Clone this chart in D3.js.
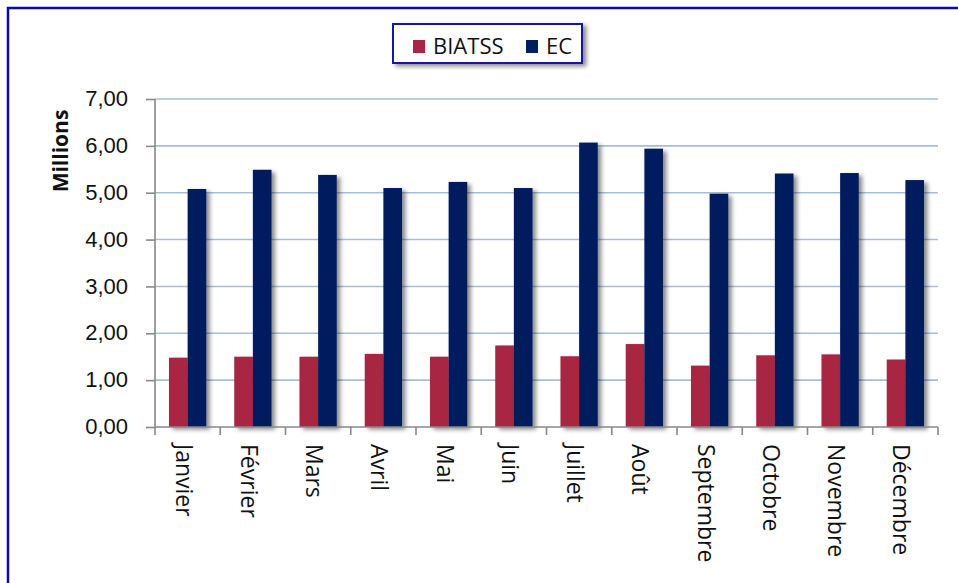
<!DOCTYPE html>
<html><head><meta charset="utf-8">
<script src="https://cdn.jsdelivr.net/npm/d3@7"></script>
<style>
html,body{margin:0;padding:0;background:#fff;}
svg{display:block;font-family:"Open Sans","Noto Sans",sans-serif;}
</style></head>
<body><svg id="c" width="958" height="583"></svg>
<script>
const months = ["Janvier","Février","Mars","Avril","Mai","Juin","Juillet","Août","Septembre","Octobre","Novembre","Décembre"];
const seriesNames = ["BIATSS","EC"];
const biatss = [1.48,1.50,1.50,1.56,1.50,1.74,1.51,1.77,1.31,1.53,1.55,1.44];
const ec = [5.08,5.49,5.38,5.10,5.23,5.10,6.07,5.94,4.98,5.41,5.42,5.27];
const yTicks = [0,1,2,3,4,5,6,7];
const colors = ["#A82543","#001F5F"];

const svg = d3.select("#c");
const defs = svg.append("defs");
const f = defs.append("filter").attr("id","sh").attr("x","-30%").attr("y","-10%").attr("width","180%").attr("height","130%");
f.append("feDropShadow").attr("dx",3.5).attr("dy",2.5).attr("stdDeviation",2).attr("flood-color","#000").attr("flood-opacity",0.45);

// outer chart border
svg.append("rect").attr("x",8).attr("y",8).attr("width",970).attr("height",600)
  .attr("fill","none").attr("stroke","#0C0CA0").attr("stroke-width",2.5);

const L=155, R=938, T=99, B=427;
const x = d3.scaleBand().domain(months).range([L,R]).paddingInner(0).paddingOuter(0);
const y = d3.scaleLinear().domain([0,7]).range([B,T]);
const inner = d3.scaleBand().domain(seriesNames).range([0,x.bandwidth()]).paddingInner(0).paddingOuter(0.75);

// gridlines
svg.append("g").selectAll("line").data(yTicks.filter(d=>d>0)).join("line")
  .attr("x1",L).attr("x2",R).attr("y1",d=>y(d)).attr("y2",d=>y(d))
  .attr("stroke","#A7BED8").attr("stroke-width",1.6);

// bars
const data = [biatss, ec];
const g = svg.append("g");
months.forEach((m,i)=>{
  seriesNames.forEach((s,j)=>{
    g.append("rect")
      .attr("x", x(m)+inner(s)).attr("width", inner.bandwidth())
      .attr("y", y(data[j][i])).attr("height", y(0)-y(data[j][i]))
      .attr("fill", colors[j]).attr("filter","url(#sh)");
  });
});

// y axis
const ya = svg.append("g").attr("transform",`translate(${L},0)`)
  .call(d3.axisLeft(y).tickValues(yTicks).tickSize(9).tickPadding(18).tickFormat(d=>d3.format(".2f")(d).replace(".",",")));
ya.select(".domain").attr("stroke","#888").attr("stroke-width",1.6).attr("d",`M0,${T}V${B}`);
ya.selectAll(".tick line").attr("stroke","#888").attr("stroke-width",1.6);
ya.selectAll(".tick text").attr("font-size",22).attr("fill","#111")
  .style("font-variant-numeric","oldstyle-nums").attr("dy","0.3em");

// x axis
const xa = svg.append("g").attr("transform",`translate(0,${B})`)
  .call(d3.axisBottom(x).tickSize(0).tickFormat(""));
xa.select(".domain").attr("stroke","#888").attr("stroke-width",1.6).attr("d",`M${L},0H${R}`);
xa.selectAll(".tick").remove();
const bt = months.map((m)=>x(m)).concat([R]);
xa.selectAll("line.bt").data(bt).join("line").attr("class","bt")
  .attr("x1",d=>d).attr("x2",d=>d).attr("y1",0).attr("y2",8)
  .attr("stroke","#888").attr("stroke-width",1.6);
svg.append("g").selectAll("text").data(months).join("text")
  .attr("transform",m=>`translate(${x(m)+x.bandwidth()/2-3},${B+17}) rotate(90)`)
  .attr("dominant-baseline","central").attr("font-size",23).attr("fill","#111")
  .text(d=>d);

// y title
svg.append("text").attr("transform","translate(60,151) rotate(-90)")
  .attr("text-anchor","middle").attr("dominant-baseline","central")
  .attr("font-size",21).attr("font-weight","bold").attr("fill","#111").text("Millions");

// legend
const lg = svg.append("g");
lg.append("rect").attr("x",393).attr("y",24).attr("width",189).attr("height",39)
  .attr("fill","#fff").attr("stroke","#1515A5").attr("stroke-width",2).attr("filter","url(#sh)");
const lx = [413, 526];
seriesNames.forEach((s,j)=>{
  lg.append("rect").attr("x",lx[j]).attr("y",40).attr("width",12).attr("height",13).attr("fill",colors[j]);
  lg.append("text").attr("x",lx[j]+20).attr("y",54).attr("font-size",22).attr("fill","#111").text(s);
});
</script></body></html>
